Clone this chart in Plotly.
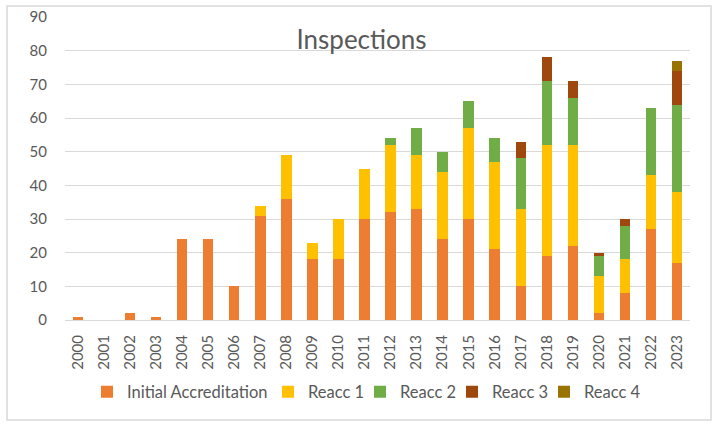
import plotly.graph_objects as go

years = [str(y) for y in range(2000, 2024)]
initial = [1, 0, 2, 1, 24, 24, 10, 31, 36, 18, 18, 30, 32, 33, 24, 30, 21, 10, 19, 22, 2, 8, 27, 17]
reacc1 = [0, 0, 0, 0, 0, 0, 0, 3, 13, 5, 12, 15, 20, 16, 20, 27, 26, 23, 33, 30, 11, 10, 16, 21]
reacc2 = [0, 0, 0, 0, 0, 0, 0, 0, 0, 0, 0, 0, 2, 8, 6, 8, 7, 15, 19, 14, 6, 10, 20, 26]
reacc3 = [0, 0, 0, 0, 0, 0, 0, 0, 0, 0, 0, 0, 0, 0, 0, 0, 0, 5, 7, 5, 1, 2, 0, 10]
reacc4 = [0, 0, 0, 0, 0, 0, 0, 0, 0, 0, 0, 0, 0, 0, 0, 0, 0, 0, 0, 0, 0, 0, 0, 3]

names = ["Initial Accreditation", "Reacc 1", "Reacc 2", "Reacc 3", "Reacc 4"]
values = [initial, reacc1, reacc2, reacc3, reacc4]
colors = ["#ED7D31", "#FFC000", "#70AD47", "#9E480E", "#997300"]
legend_text_x = [122, 303, 395, 487, 579]  # left edge of each legend label, px

FONT = "Lato"
GRAY = "#595959"
GRID = "#D9D9D9"

fig = go.Figure()
legend_layouts = {}
for i, (name, vals, col) in enumerate(zip(names, values, colors)):
    lid = "legend" if i == 0 else f"legend{i + 1}"
    fig.add_trace(go.Bar(x=years, y=vals, name=name, legend=lid,
                         marker=dict(color=col, line=dict(width=0))))
    legend_layouts[lid] = dict(
        orientation="h", xref="container", yref="container",
        x=(legend_text_x[i] - 35) / 723, xanchor="left",
        y=1 - 392 / 434, yanchor="middle",
        font=dict(family=FONT, size=16.5, color=GRAY),
        itemwidth=30, bgcolor="rgba(0,0,0,0)",
    )

fig.update_layout(
    width=723, height=434,
    barmode="stack", bargap=0.6,
    paper_bgcolor="white", plot_bgcolor="white",
    margin=dict(l=65, r=33, t=17, b=114, autoexpand=False),
    font=dict(family=FONT, color=GRAY, size=15),
    title=dict(text="Inspections", x=0.5, xanchor="center", xref="container",
               y=1 - 40 / 434, yanchor="middle", yref="container",
               font=dict(family=FONT, size=26, color=GRAY)),
    showlegend=True,
    **legend_layouts,
)
fig.update_yaxes(range=[0, 90], dtick=10, showgrid=True, gridcolor=GRID, gridwidth=1,
                 zeroline=True, zerolinecolor=GRID, zerolinewidth=1, automargin=False,
                 ticks="outside", ticklen=14, tickcolor="rgba(0,0,0,0)",
                 tickfont=dict(family=FONT, size=15, color=GRAY), showline=False)
fig.update_xaxes(tickangle=-90, showgrid=False, showline=True, linecolor=GRID, linewidth=1,
                 automargin=False,
                 ticks="outside", ticklen=8, tickcolor="rgba(0,0,0,0)",
                 tickfont=dict(family=FONT, size=15, color=GRAY))

fig.add_shape(type="rect", xref="paper", yref="paper",
              x0=(7 - 65) / 625, x1=(711 - 65) / 625,
              y0=(320 - 420) / 303, y1=(320 - 6) / 303,
              line=dict(color=GRID, width=1.5), fillcolor="rgba(0,0,0,0)", layer="below")

fig.write_html("out.html", config={"displayModeBar": False},
               post_script="document.body.style.margin='0';document.body.style.overflow='hidden';")
